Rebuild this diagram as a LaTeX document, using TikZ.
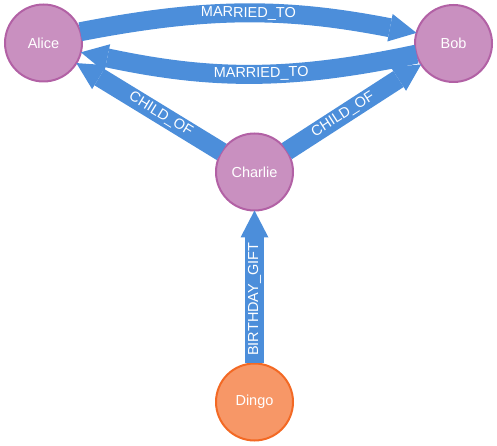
\documentclass[tikz,border=0pt]{standalone}
\usepackage{fontspec}
\setmainfont{Liberation Sans}
\usetikzlibrary{arrows.meta}

\definecolor{pinkfill}{HTML}{C990C0}
\definecolor{pinkline}{HTML}{B261A5}
\definecolor{orangefill}{HTML}{F79767}
\definecolor{orangeline}{HTML}{F36924}
\definecolor{relblue}{HTML}{4C8EDA}

\begin{document}
\begin{tikzpicture}[>={Triangle[width=28pt,length=27pt,line width=0pt]},x=1pt,y=1pt,
  person/.style={circle,draw=pinkline,fill=pinkfill,line width=2pt,minimum size=77pt,
    inner sep=0pt,outer sep=0pt,text=white,font=\fontsize{14.5}{17}\selectfont},
  rel/.style={draw=relblue,line width=19pt},
  lbl/.style={sloped,text=white,inner sep=0pt,font=\fontsize{14.5}{17}\selectfont}]

\useasboundingbox (0,0) rectangle (497,446);

\node[person] (a) at (43.5,403) {Alice};
\node[person] (b) at (453.5,402.5) {Bob};
\node[person] (c) at (254.5,274) {Charlie};
\node[person,draw=orangeline,fill=orangefill] (d) at (254.5,44) {Dingo};

\draw[rel,->] (a.17) to[out=11,in=169] node[lbl,pos=0.5] {MARRIED\_TO} (b.164);
\draw[rel,->] (b.196) to[out=192,in=-12] node[lbl,pos=0.46] {MARRIED\_TO} (a.-14);
\draw[rel,->] (c) -- node[lbl,pos=0.42] {CHILD\_OF} (a);
\draw[rel,->] (c) -- node[lbl,pos=0.42] {CHILD\_OF} (b);
\draw[rel,->] (d) -- node[lbl,pos=0.42] {BIRTHDAY\_GIFT} (c);

\end{tikzpicture}
\end{document}
